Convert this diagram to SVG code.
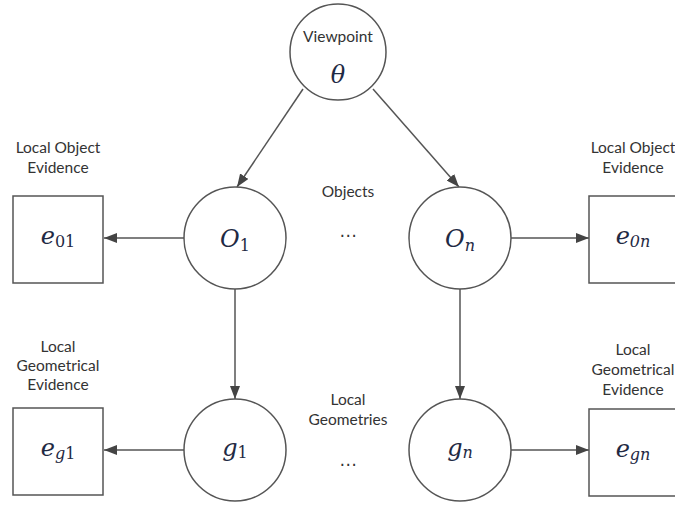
<svg xmlns="http://www.w3.org/2000/svg" width="675" height="509" viewBox="0 0 675 509">
<style>
.node{fill:#fff;stroke:#555;stroke-width:1.5}
.lbl{font-family:Lato,"Liberation Sans",sans-serif;font-size:15.5px;fill:#333;text-anchor:middle}
.dots{font-family:"DejaVu Sans",sans-serif;font-size:17px;fill:#333;text-anchor:middle}
.m{font-family:"DejaVu Serif","Liberation Serif",serif;font-style:italic;font-size:24px;fill:#1f2a44;text-anchor:middle}
.sub{font-style:normal;font-size:16px}
.sub2{font-size:16px}
.edge{stroke:#555;stroke-width:1.5;fill:none;marker-end:url(#ah)}
</style>
<defs>
<marker id="ah" viewBox="0 0 13 10" refX="13" refY="5" markerWidth="13" markerHeight="10" markerUnits="userSpaceOnUse" orient="auto">
<path d="M0,0 L13,5 L0,10 Z" fill="#444"/>
</marker>
</defs>
<rect width="675" height="509" fill="#fff"/>
<g id="connectors">
<line class="edge" x1="303" y1="89" x2="237" y2="187"/>
<line class="edge" x1="373" y1="89" x2="459" y2="187"/>
<line class="edge" x1="184" y1="238" x2="104" y2="238"/>
<line class="edge" x1="511" y1="238" x2="589" y2="238"/>
<line class="edge" x1="235" y1="289" x2="235" y2="399"/>
<line class="edge" x1="460" y1="289" x2="460" y2="399"/>
<line class="edge" x1="184" y1="450" x2="104" y2="450"/>
<line class="edge" x1="511" y1="450" x2="589" y2="450"/>
</g>
<g id="viewpoint">
<circle class="node" cx="338" cy="52" r="48"/>
<text class="lbl" x="338" y="42">Viewpoint</text>
<text class="m" x="338" y="83">θ</text>
</g>
<g id="o1">
<circle class="node" cx="235" cy="238" r="51"/>
<text class="m" x="235" y="247">O<tspan class="sub" dy="4">1</tspan></text>
</g>
<g id="on">
<circle class="node" cx="460" cy="238" r="51"/>
<text class="m" x="460" y="247">O<tspan class="sub2" dy="4">n</tspan></text>
</g>
<g id="g1">
<circle class="node" cx="235" cy="450" r="51"/>
<text class="m" x="235" y="456">g<tspan class="sub" dy="2">1</tspan></text>
</g>
<g id="gn">
<circle class="node" cx="460" cy="450" r="51"/>
<text class="m" x="460" y="456">g<tspan class="sub2" dy="2">n</tspan></text>
</g>
<g id="e01">
<rect class="node" x="13" y="196" width="90" height="87"/>
<text class="m" x="58" y="244">e<tspan class="sub" dy="3">01</tspan></text>
</g>
<g id="e0n">
<rect class="node" x="589" y="196" width="92" height="87"/>
<text class="m" x="633" y="244">e<tspan class="sub2" dy="3">0n</tspan></text>
</g>
<g id="eg1">
<rect class="node" x="13" y="408" width="90" height="87"/>
<text class="m" x="58" y="456">e<tspan class="sub2" dy="3">g</tspan><tspan class="sub">1</tspan></text>
</g>
<g id="egn">
<rect class="node" x="589" y="409" width="92" height="87"/>
<text class="m" x="633" y="457">e<tspan class="sub2" dy="3">gn</tspan></text>
</g>
<g id="labels">
<text class="lbl" x="58" y="153">Local Object</text>
<text class="lbl" x="58" y="173">Evidence</text>
<text class="lbl" x="633" y="153">Local Object</text>
<text class="lbl" x="633" y="173">Evidence</text>
<text class="lbl" x="348" y="197">Objects</text>
<text class="dots" x="348" y="241">⋯</text>
<text class="lbl" x="58" y="352">Local</text>
<text class="lbl" x="58" y="371">Geometrical</text>
<text class="lbl" x="58" y="390">Evidence</text>
<text class="lbl" x="633" y="355">Local</text>
<text class="lbl" x="633" y="375">Geometrical</text>
<text class="lbl" x="633" y="395">Evidence</text>
<text class="lbl" x="348" y="405">Local</text>
<text class="lbl" x="348" y="425">Geometries</text>
<text class="dots" x="348" y="470">⋯</text>
</g>
</svg>
